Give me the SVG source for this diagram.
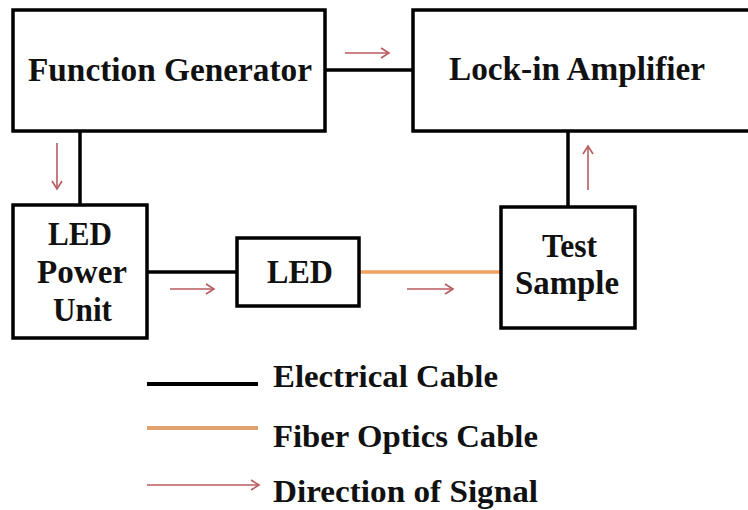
<svg xmlns="http://www.w3.org/2000/svg" width="748" height="510" viewBox="0 0 748 510">
<style>
.box{fill:#fff;stroke:#000;stroke-width:3.5}
.el{stroke:#000;stroke-width:3.5;fill:none}
.fo{stroke:#f0a060;stroke-width:3.5;fill:none}
.sig{stroke:#b85a5e;stroke-width:1.6;fill:none;marker-end:url(#ah)}
</style>
<defs>
<marker id="ah" markerUnits="userSpaceOnUse" markerWidth="12" markerHeight="12" refX="10" refY="6" orient="auto">
<path d="M2,1 L10,6 L2,11" fill="none" stroke="#b85a5e" stroke-width="1.6"/>
</marker>
</defs>
<rect width="748" height="510" fill="#fff"/>
<g id="connectors">
<line class="el" x1="325" y1="70" x2="413" y2="70"/>
<line class="el" x1="80" y1="131" x2="80" y2="205"/>
<line class="el" x1="147" y1="272" x2="237" y2="272"/>
<line class="fo" x1="359" y1="272" x2="501" y2="272"/>
<line class="el" x1="568" y1="131" x2="568" y2="207"/>
<line class="sig" x1="345" y1="53" x2="389" y2="53"/>
<line class="sig" x1="57" y1="143" x2="57" y2="189"/>
<line class="sig" x1="170" y1="289" x2="214" y2="289"/>
<line class="sig" x1="407" y1="289" x2="453" y2="289"/>
<line class="sig" x1="588" y1="190" x2="588" y2="146"/>
</g>
<g font-family="Liberation Serif, DejaVu Serif, serif" font-weight="bold" font-size="33" fill="#111">
<g id="function-generator">
<rect class="box" x="13" y="10" width="312" height="121"/>
<text x="28" y="81" textLength="284" lengthAdjust="spacingAndGlyphs">Function Generator</text>
</g>
<g id="lock-in-amplifier">
<rect class="box" x="413" y="10" width="360" height="121"/>
<text x="449" y="80" textLength="256" lengthAdjust="spacingAndGlyphs">Lock-in Amplifier</text>
</g>
<g id="led-power-unit">
<rect class="box" x="13" y="205" width="134" height="133"/>
<text x="48" y="245" textLength="64" lengthAdjust="spacingAndGlyphs">LED</text>
<text x="37" y="283" textLength="90" lengthAdjust="spacingAndGlyphs">Power</text>
<text x="53" y="321" textLength="59" lengthAdjust="spacingAndGlyphs">Unit</text>
</g>
<g id="led">
<rect class="box" x="237" y="238" width="122" height="68"/>
<text x="267" y="283" textLength="66" lengthAdjust="spacingAndGlyphs">LED</text>
</g>
<g id="test-sample">
<rect class="box" x="501" y="207" width="134" height="121"/>
<text x="542" y="257" textLength="55" lengthAdjust="spacingAndGlyphs">Test</text>
<text x="515" y="294" textLength="104" lengthAdjust="spacingAndGlyphs">Sample</text>
</g>
<g id="legend" font-size="32">
<line x1="147" y1="384" x2="258" y2="384" stroke="#000" stroke-width="4"/>
<text x="273" y="387" textLength="225" lengthAdjust="spacingAndGlyphs">Electrical Cable</text>
<line x1="147" y1="428" x2="258" y2="428" stroke="#e3a070" stroke-width="4"/>
<text x="273" y="447" textLength="265" lengthAdjust="spacingAndGlyphs">Fiber Optics Cable</text>
<line class="sig" x1="147" y1="485" x2="259" y2="485"/>
<text x="273" y="502" textLength="265" lengthAdjust="spacingAndGlyphs">Direction of Signal</text>
</g>
</g>
</svg>
